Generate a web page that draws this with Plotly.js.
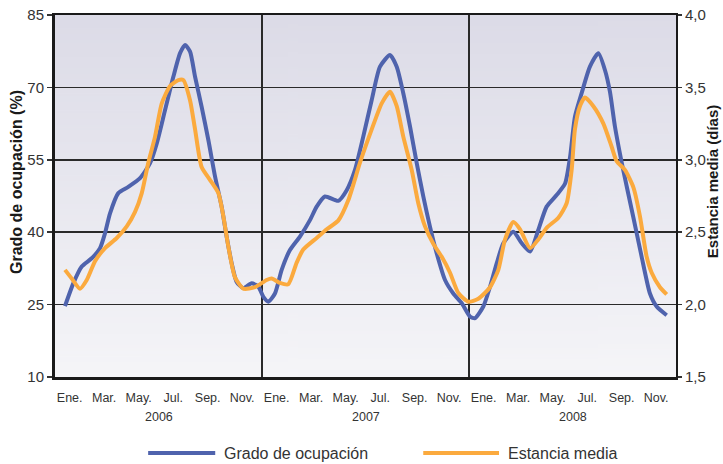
<!DOCTYPE html>
<html>
<head>
<meta charset="utf-8">
<script src="https://cdn.plot.ly/plotly-3.0.1.min.js"></script>
<style>
  html, body { margin: 0; padding: 0; background: #ffffff; }
  #chart { width: 723px; height: 464px; }
</style>
</head>
<body>
<div id="chart"></div>
<script>
// Months since January 2006 (0 = start of Ene. 2006)
const gradoMes = [0.58,1.06,1.55,2.13,2.61,2.90,3.19,3.67,4.25,4.93,5.51,5.90,6.38,6.86,7.25,7.54,7.83,8.12,8.50,8.89,9.28,9.66,9.95,10.24,10.53,10.92,11.40,11.79,12.08,12.37,12.75,13.14,13.62,14.20,14.78,15.17,15.65,16.42,16.91,17.39,17.87,18.36,18.84,19.42,19.81,20.19,20.58,20.97,21.35,21.74,22.13,22.61,23.09,23.58,24.06,24.35,24.83,25.22,25.61,25.99,26.57,27.06,27.54,28.02,28.50,29.08,29.57,29.86,30.14,30.53,31.01,31.50,31.88,32.17,32.46,32.94,33.52,34.01,34.49,34.88,35.46];
// Grado de ocupación (%)
const gradoVal = [24.7,29.4,32.9,34.6,36.7,39.8,43.9,48.1,49.4,51.2,54.3,58.4,65.3,72.2,77.1,78.8,77.4,72.2,66.0,59.1,51.5,45.3,39.1,33.6,29.7,28.4,29.4,28.7,26.6,25.6,27.3,32.2,36.3,39.1,42.5,45.3,47.4,46.5,48.7,52.9,59.8,67.4,74.3,76.7,74.3,68.8,61.9,54.3,47.4,41.1,35.6,30.1,27.3,25.3,22.5,22.2,24.6,28.7,33.6,37.7,40.1,37.7,36.0,40.5,45.3,47.7,50.1,55.6,63.9,68.8,74.3,77.1,73.6,69.1,61.9,52.9,43.2,34.9,27.3,24.6,22.8];

const estanciaMes = [0.58,0.97,1.45,1.84,2.32,2.90,3.58,4.16,4.64,5.03,5.41,5.80,6.19,6.67,7.15,7.44,7.83,8.12,8.50,8.99,9.47,9.76,10.05,10.43,10.92,11.59,12.27,12.56,13.04,13.52,14.01,14.39,15.17,15.75,16.42,17.00,17.68,18.36,18.94,19.42,19.81,20.19,20.68,21.06,21.45,21.93,22.42,22.90,23.38,23.96,24.54,25.22,25.70,26.09,26.57,26.96,27.54,28.02,28.50,29.18,29.66,29.95,30.14,30.43,30.72,31.21,31.79,32.27,32.56,33.04,33.53,33.91,34.30,34.59,35.07,35.46];
// Estancia media (días)
const estanciaVal = [2.24,2.18,2.11,2.17,2.30,2.39,2.46,2.54,2.64,2.77,2.98,3.16,3.39,3.51,3.55,3.55,3.41,3.21,2.95,2.86,2.77,2.61,2.40,2.19,2.11,2.12,2.17,2.18,2.15,2.14,2.29,2.38,2.46,2.52,2.58,2.72,2.98,3.21,3.39,3.47,3.37,3.16,2.93,2.70,2.54,2.42,2.33,2.22,2.08,2.02,2.04,2.12,2.24,2.45,2.57,2.52,2.39,2.45,2.53,2.60,2.70,2.93,3.21,3.37,3.43,3.37,3.25,3.09,2.99,2.93,2.81,2.61,2.33,2.22,2.12,2.07];

const mesesEtiquetas = ["Ene.","Mar.","May.","Jul.","Sep.","Nov."];
const mesesInicio = [0,2,4,6,8,10];
const anios = ["2006","2007","2008"];
const gradoTicks = [10,25,40,55,70,85];
const estanciaTicks = [1.5,2.0,2.5,3.0,3.5,4.0];

const serieNombres = ["Grado de ocupación","Estancia media"];
const serieColores = ["#4f63ad","#fbaa3e"];

// Build tick positions for month labels
const tickVals = [], tickText = [];
anios.forEach((a, i) => {
  mesesInicio.forEach((m, j) => {
    tickVals.push(i * 12 + m + 0.85);
    tickText.push(mesesEtiquetas[j]);
  });
});

// background gradient image
const cv = document.createElement('canvas');
cv.width = 4; cv.height = 256;
const ctx = cv.getContext('2d');
const g = ctx.createLinearGradient(0, 0, 0, 256);
g.addColorStop(0, '#dcdbe7');
g.addColorStop(1, '#f5f5f8');
ctx.fillStyle = g;
ctx.fillRect(0, 0, 4, 256);
const bgImg = cv.toDataURL('image/png');

const font = "'Liberation Sans', Arial, Helvetica, sans-serif";
const txt = '#333333';

const traces = [
  {
    x: gradoMes, y: gradoVal, type: 'scatter', mode: 'lines',
    name: serieNombres[0], yaxis: 'y',
    line: {color: serieColores[0], width: 4, shape: 'spline', smoothing: 0.6},
    showlegend: false, hoverinfo: 'skip'
  },
  {
    x: estanciaMes, y: estanciaVal, type: 'scatter', mode: 'lines',
    name: serieNombres[1], yaxis: 'y2',
    line: {color: serieColores[1], width: 4, shape: 'spline', smoothing: 0.6},
    showlegend: false, hoverinfo: 'skip'
  }
];

const shapes = [];
// year separators
[12, 24].forEach(v => {
  shapes.push({type: 'line', xref: 'x', yref: 'paper', x0: v, x1: v, y0: 0, y1: 1,
    line: {color: '#2a2a2a', width: 2}, layer: 'below'});
});
// legend lines
const legX = [[0.150, 0.258], [0.593, 0.715]];
const legTextX = [0.269, 0.726];
const legY = -0.21;
legX.forEach((p, i) => {
  shapes.push({type: 'line', xref: 'paper', yref: 'paper', x0: p[0], x1: p[1], y0: legY, y1: legY,
    line: {color: serieColores[i], width: 4}});
});

const annotations = [];
anios.forEach((a, i) => {
  annotations.push({text: a, x: i * 12 + 6, xref: 'x', y: -0.11, yref: 'paper',
    showarrow: false, xanchor: 'center', yanchor: 'middle', font: {family: font, size: 12.5, color: txt}});
});
serieNombres.forEach((n, i) => {
  annotations.push({text: n, x: legTextX[i], xref: 'paper', y: legY, yref: 'paper',
    showarrow: false, xanchor: 'left', yanchor: 'middle', font: {family: font, size: 16, color: txt}});
});
annotations.push({text: '<b>Grado de ocupación (%)</b>', textangle: -90, xref: 'paper', yref: 'paper',
  x: -0.062, y: 0.54, showarrow: false, xanchor: 'center', yanchor: 'middle',
  font: {family: font, size: 16, color: '#1a1a1a'}});
annotations.push({text: '<b>Estancia media (días)</b>', textangle: -90, xref: 'paper', yref: 'paper',
  x: 1.059, y: 0.54, showarrow: false, xanchor: 'center', yanchor: 'middle',
  font: {family: font, size: 15, color: '#1a1a1a'}});

const layout = {
  width: 723, height: 464,
  margin: {l: 55, r: 47, t: 15, b: 87},
  paper_bgcolor: '#ffffff',
  plot_bgcolor: 'rgba(0,0,0,0)',
  separators: ',.',
  font: {family: font, color: txt},
  showlegend: false,
  images: [{source: bgImg, xref: 'paper', yref: 'paper', x: 0, y: 1, sizex: 1, sizey: 1,
    sizing: 'stretch', layer: 'below', xanchor: 'left', yanchor: 'top'}],
  xaxis: {
    range: [0, 36], tickvals: tickVals, ticktext: tickText, tickangle: 0,
    showgrid: false, zeroline: false, ticks: '', ticklabelstandoff: 7,
    showline: true, linecolor: '#1a1a1a', linewidth: 3, mirror: false,
    tickfont: {family: font, size: 12.5, color: txt}, fixedrange: true
  },
  xaxis2: {overlaying: 'x', range: [0, 36], showticklabels: false, showgrid: false, zeroline: false,
    side: 'top', showline: true, linecolor: '#1a1a1a', linewidth: 2},
  yaxis: {
    range: [10, 85], tickvals: gradoTicks, showgrid: true, gridcolor: '#2a2a2a', gridwidth: 1.6,
    zeroline: false, ticks: 'outside', ticklen: 5, tickwidth: 1.5, tickcolor: '#333',
    showline: true, linecolor: '#1a1a1a', linewidth: 3,
    tickfont: {family: font, size: 15, color: txt}, fixedrange: true
  },
  yaxis2: {
    overlaying: 'y', side: 'right', range: [1.5, 4.0], tickvals: estanciaTicks, tickformat: '.1f',
    showgrid: false, zeroline: false, ticks: 'outside', ticklen: 4, tickwidth: 1.5, tickcolor: '#333',
    showline: true, linecolor: '#1a1a1a', linewidth: 2,
    tickfont: {family: font, size: 15, color: txt}, fixedrange: true
  },
  shapes: shapes,
  annotations: annotations
};

// an invisible helper trace so the top axis line (frame) is drawn
traces.push({x: [0], y: [10], xaxis: 'x2', yaxis: 'y', mode: 'markers', marker: {opacity: 0}, showlegend: false, hoverinfo: 'skip'});

Plotly.newPlot('chart', traces, layout, {displayModeBar: false, staticPlot: true});
</script>
</body>
</html>
